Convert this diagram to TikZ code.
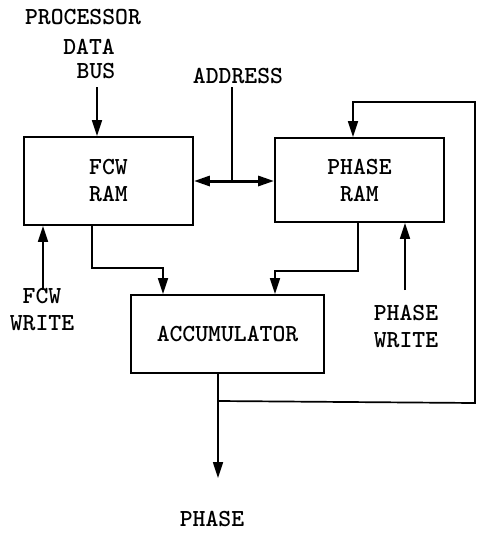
\documentclass[tikz,border=0pt]{standalone}
\usepackage{fontspec}
\usetikzlibrary{arrows.meta, positioning}

\begin{document}
\begin{tikzpicture}[
  x=1pt, y=-1pt,
  font=\ttfamily\bfseries\fontsize{24.5}{27}\selectfont,
  block/.style={draw, line width=1.8pt, align=center, inner sep=0pt},
  lbl/.style={align=center, inner sep=0pt},
  arr/.style={-{Triangle[length=16pt,width=10pt]}, line width=1.7pt},
  wire/.style={line width=1.7pt},
  bus/.style={{Triangle[length=16pt,width=10pt]}-{Triangle[length=16pt,width=10pt]}, line width=3pt}
]
\useasboundingbox (0,0) rectangle (477,533);
% blocks
\node[block, minimum width=169pt, minimum height=88pt] (fcw) at (108.5,181) {FCW\\RAM};
\node[block, minimum width=169pt, minimum height=84pt] (phram) at (359.5,180) {PHASE\\RAM};
\node[block, minimum width=193pt, minimum height=78pt] (acc) at (227.5,334) {ACCUMULATOR};
% labels
\node[lbl] (pdb1) at (83,17.5) {PROCESSOR};
\node[lbl] (pdb2) at (89,46.5) {DATA};
\node[lbl] (pdb3) at (96,71.5) {BUS};
\node[lbl] (addr) at (238,76.5) {ADDRESS};
\node[lbl] (fcwwr) at (42,310) {FCW\\WRITE};
\node[lbl] (phwr) at (406,326) {PHASE\\WRITE};
\node[lbl] (phout) at (212,519) {PHASE};
% free ends
\coordinate (busin) at (97,87);
\coordinate (addrin) at (232,87);
\coordinate (fcwwrin) at (43,290);
\coordinate (phwrin) at (405,290);
\coordinate (outend) at (218,478);
\coordinate (junc) at (218,401);
% connectors
\draw[arr] (busin) -- (busin |- fcw.north);
\draw[wire] (addrin) -- (addrin |- fcw.east);
\draw[bus] (fcw.east) -- (fcw.east -| phram.west);
\draw[arr] (fcwwrin) -- (fcwwrin |- fcw.south);
\draw[arr] (phwrin) -- (phwrin |- phram.south);
\draw[arr] ([xshift=-16.5pt]fcw.south) -- ++(0,42) -| ([xshift=-64.5pt]acc.north);
\draw[arr] ([xshift=-1.5pt]phram.south) -- ++(0,48) -| ([xshift=47.5pt]acc.north);
\draw[arr] ([xshift=-9.5pt]acc.south) -- (outend);
\draw[arr] (junc) -- (475,403) -- (475,102) -| ([xshift=-6.5pt]phram.north);
\end{tikzpicture}
\end{document}
